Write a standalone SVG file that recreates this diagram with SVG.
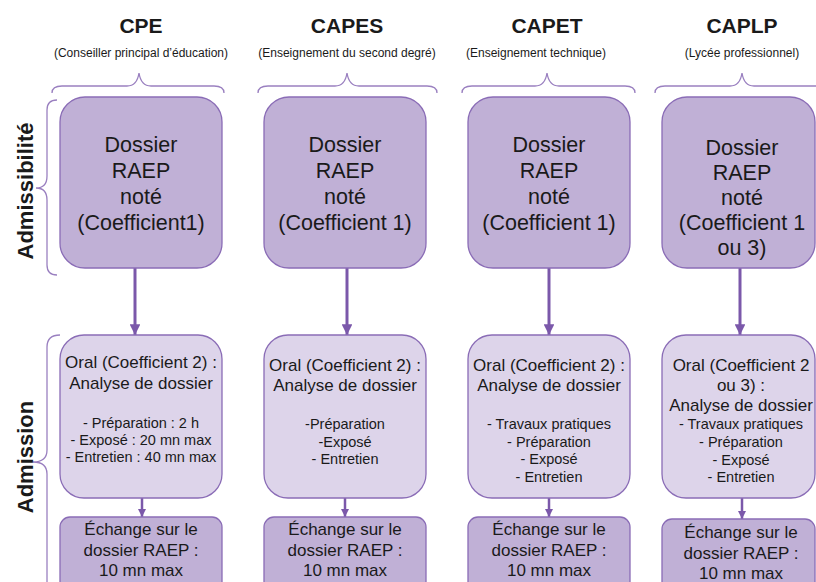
<svg xmlns="http://www.w3.org/2000/svg" width="816" height="582" viewBox="0 0 816 582">
<defs>
<style>
.hdr{font-family:"Liberation Sans",Arial,sans-serif;font-weight:bold;font-size:21px;fill:#1a1a1a;text-anchor:middle}
.sub{font-family:"Liberation Sans",Arial,sans-serif;font-size:12px;fill:#1a1a1a;text-anchor:middle}
.side{font-family:"Liberation Sans",Arial,sans-serif;font-weight:bold;font-size:22px;fill:#1a1a1a;text-anchor:middle}
.brace{fill:none;stroke:#9a80c0;stroke-width:1.3}
.top{fill:#c0b0d6;stroke:#8a6cb6;stroke-width:1.3}
.oral{fill:#ddd4ea;stroke:#8a6cb6;stroke-width:1.3}
.bot{fill:#c0b0d6;stroke:#8a6cb6;stroke-width:1.3}
.t21{font-family:"Liberation Sans",Arial,sans-serif;font-size:21.5px;fill:#1a1a1a;text-anchor:middle}
.t17{font-family:"Liberation Sans",Arial,sans-serif;font-size:17px;fill:#1a1a1a;text-anchor:middle}
.t14{font-family:"Liberation Sans",Arial,sans-serif;font-size:14.5px;fill:#1a1a1a;text-anchor:middle}
.arr{stroke:#7b58aa;stroke-width:3;fill:none}
.arr2{stroke:#7b58aa;stroke-width:2.5;fill:none}
</style>
<marker id="ah" viewBox="0 0 10 10" refX="10" refY="5" markerWidth="3.6" markerHeight="3.6" markerUnits="strokeWidth" orient="auto">
<path d="M0,0 L10,5 L0,10 z" fill="#7b58aa"/>
</marker>
<marker id="ah2" viewBox="0 0 10 10" refX="10" refY="5" markerWidth="3.4" markerHeight="3.4" markerUnits="strokeWidth" orient="auto">
<path d="M0,0 L10,5 L0,10 z" fill="#7b58aa"/>
</marker>
</defs>
<rect width="816" height="582" fill="#ffffff"/>

<g id="headers">
<text class="hdr" x="141" y="33">CPE</text>
<text class="sub" x="141" y="57">(Conseiller principal d’éducation)</text>
<text class="hdr" x="347" y="33">CAPES</text>
<text class="sub" x="347" y="57">(Enseignement du second degré)</text>
<text class="hdr" x="547" y="33">CAPET</text>
<text class="sub" x="536" y="57">(Enseignement technique)</text>
<text class="hdr" x="742" y="33">CAPLP</text>
<text class="sub" x="742" y="57">(Lycée professionnel)</text>
</g>

<g id="braces">
<path class="brace" d="M52,93 Q52,86 62,86 L127,86 Q137,86 139,73 Q141,86 151,86 L214,86 Q224,86 224,93"/>
<path class="brace" d="M258,93 Q258,86 268,86 L335,86 Q345,86 347,73 Q349,86 359,86 L427,86 Q437,86 437,93"/>
<path class="brace" d="M462,93 Q462,86 472,86 L535,86 Q545,86 547,73 Q549,86 559,86 L625,86 Q635,86 635,93"/>
<path class="brace" d="M655,93 Q655,86 665,86 L730,86 Q740,86 742,73 Q744,86 754,86 L820,86"/>
<path class="brace" d="M57,100 Q47,100 47,110 L47,176 Q47,188 36,188 Q47,188 47,200 L47,265 Q47,275 57,275"/>
<path class="brace" d="M60,335 Q47,335 47,347 L47,450 Q47,462 33,462 Q47,462 47,474 L47,590"/>
<text class="side" transform="translate(33,191) rotate(-90)">Admissibilité</text>
<text class="side" transform="translate(33,457) rotate(-90)">Admission</text>
</g>

<g id="connectors">
<line class="arr" x1="135" y1="268" x2="135" y2="335" marker-end="url(#ah)"/>
<line class="arr" x1="347" y1="268" x2="347" y2="335" marker-end="url(#ah)"/>
<line class="arr" x1="549" y1="268" x2="549" y2="335" marker-end="url(#ah)"/>
<line class="arr" x1="740" y1="268" x2="740" y2="335" marker-end="url(#ah)"/>
<line class="arr2" x1="142" y1="498" x2="142" y2="517" marker-end="url(#ah2)"/>
<line class="arr2" x1="345" y1="498" x2="345" y2="517" marker-end="url(#ah2)"/>
<line class="arr2" x1="549" y1="498" x2="549" y2="517" marker-end="url(#ah2)"/>
<line class="arr2" x1="742" y1="498" x2="742" y2="519" marker-end="url(#ah2)"/>
</g>

<g id="cpe-dossier">
<rect class="top" x="60" y="97" width="162" height="171" rx="25"/>
<text class="t21" x="141" y="152">Dossier</text>
<text class="t21" x="141" y="178">RAEP</text>
<text class="t21" x="141" y="204">noté</text>
<text class="t21" x="141" y="230">(Coefficient1)</text>
</g>
<g id="capes-dossier">
<rect class="top" x="264" y="97" width="162" height="171" rx="25"/>
<text class="t21" x="345" y="152">Dossier</text>
<text class="t21" x="345" y="178">RAEP</text>
<text class="t21" x="345" y="204">noté</text>
<text class="t21" x="345" y="230">(Coefficient 1)</text>
</g>
<g id="capet-dossier">
<rect class="top" x="468" y="97" width="162" height="171" rx="25"/>
<text class="t21" x="549" y="152">Dossier</text>
<text class="t21" x="549" y="178">RAEP</text>
<text class="t21" x="549" y="204">noté</text>
<text class="t21" x="549" y="230">(Coefficient 1)</text>
</g>
<g id="caplp-dossier">
<rect class="top" x="662" y="97" width="153" height="171" rx="25"/>
<text class="t21" x="742" y="155">Dossier</text>
<text class="t21" x="742" y="180">RAEP</text>
<text class="t21" x="742" y="205">noté</text>
<text class="t21" x="742" y="230">(Coefficient 1</text>
<text class="t21" x="742" y="255">ou 3)</text>
</g>

<g id="cpe-oral">
<rect class="oral" x="60" y="335" width="162" height="163" rx="24"/>
<text class="t17" x="141" y="368">Oral (Coefficient 2) :</text>
<text class="t17" x="141" y="389">Analyse de dossier</text>
<text class="t14" x="141" y="428">- Préparation : 2 h</text>
<text class="t14" x="141" y="445">- Exposé : 20 mn max</text>
<text class="t14" x="141" y="462">- Entretien : 40 mn max</text>
</g>
<g id="capes-oral">
<rect class="oral" x="264" y="335" width="162" height="163" rx="24"/>
<text class="t17" x="345" y="371">Oral (Coefficient 2) :</text>
<text class="t17" x="345" y="391">Analyse de dossier</text>
<text class="t14" x="345" y="429">-Préparation</text>
<text class="t14" x="345" y="447">-Exposé</text>
<text class="t14" x="345" y="464">- Entretien</text>
</g>
<g id="capet-oral">
<rect class="oral" x="468" y="335" width="162" height="163" rx="24"/>
<text class="t17" x="549" y="371">Oral (Coefficient 2) :</text>
<text class="t17" x="549" y="391">Analyse de dossier</text>
<text class="t14" x="549" y="429">- Travaux pratiques</text>
<text class="t14" x="549" y="447">- Préparation</text>
<text class="t14" x="549" y="464">- Exposé</text>
<text class="t14" x="549" y="482">- Entretien</text>
</g>
<g id="caplp-oral">
<rect class="oral" x="662" y="335" width="153" height="163" rx="24"/>
<text class="t17" x="741" y="371">Oral (Coefficient 2</text>
<text class="t17" x="741" y="391">ou 3) :</text>
<text class="t17" x="741" y="411">Analyse de dossier</text>
<text class="t14" x="741" y="429">- Travaux pratiques</text>
<text class="t14" x="741" y="447">- Préparation</text>
<text class="t14" x="741" y="465">- Exposé</text>
<text class="t14" x="741" y="482">- Entretien</text>
</g>

<g id="cpe-echange">
<rect class="bot" x="60" y="517" width="162" height="75" rx="10"/>
<text class="t17" x="141" y="535">Échange sur le</text>
<text class="t17" x="141" y="556">dossier RAEP :</text>
<text class="t17" x="141" y="576">10 mn max</text>
</g>
<g id="capes-echange">
<rect class="bot" x="264" y="517" width="162" height="75" rx="10"/>
<text class="t17" x="345" y="535">Échange sur le</text>
<text class="t17" x="345" y="556">dossier RAEP :</text>
<text class="t17" x="345" y="576">10 mn max</text>
</g>
<g id="capet-echange">
<rect class="bot" x="468" y="517" width="162" height="75" rx="10"/>
<text class="t17" x="549" y="535">Échange sur le</text>
<text class="t17" x="549" y="556">dossier RAEP :</text>
<text class="t17" x="549" y="576">10 mn max</text>
</g>
<g id="caplp-echange">
<rect class="bot" x="662" y="519" width="153" height="75" rx="10"/>
<text class="t17" x="741" y="538">Échange sur le</text>
<text class="t17" x="741" y="559">dossier RAEP :</text>
<text class="t17" x="741" y="579">10 mn max</text>
</g>
</svg>
